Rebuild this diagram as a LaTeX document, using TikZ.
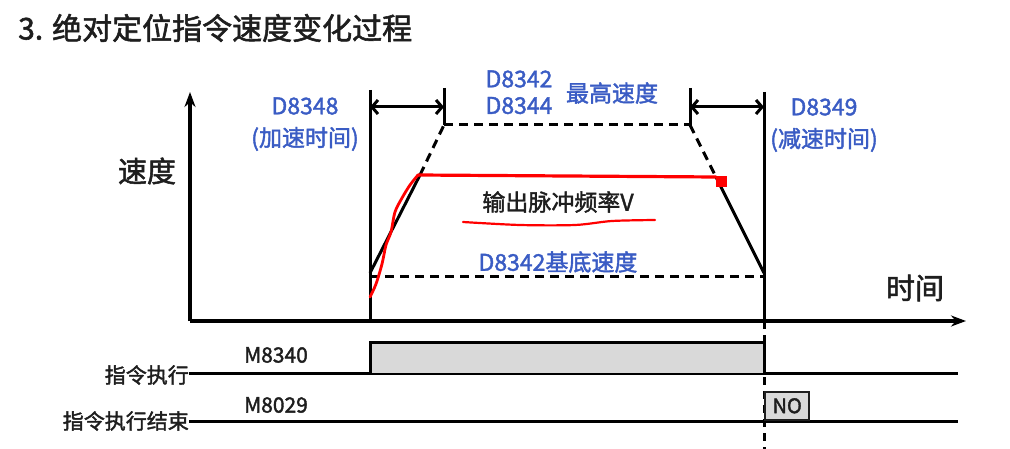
\documentclass[tikz,border=0pt]{standalone}
\usepackage{fontspec}
\setmainfont{Noto Sans CJK SC}[UprightFeatures={FakeBold=1.8}]
\usetikzlibrary{arrows.meta,positioning,calc}
\definecolor{lblue}{RGB}{58,92,196}
\definecolor{boxgray}{RGB}{217,217,217}
\definecolor{ink}{RGB}{30,30,30}

\begin{document}
\begin{tikzpicture}[x=1pt,y=-1pt,
  axis/.style={line width=3.2pt,-{Stealth[length=15pt,width=11pt]}},
  edge/.style={line width=3pt},
  dsh/.style={line width=3pt,dash pattern=on 9pt off 6pt},
  span/.style={line width=3pt,{Straight Barb[length=6pt,width=14pt]}-{Straight Barb[length=6pt,width=14pt]}},
  pen/.style={red,line width=2.8pt,line cap=round,line join=round},
  bluetxt/.style={text=lblue,inner sep=0pt,font=\fontsize{23}{26}\selectfont},
  blacktxt/.style={text=ink,inner sep=0pt,font=\fontsize{23}{26}\selectfont},
  rowtxt/.style={text=ink,inner sep=0pt,font=\fontsize{21}{24}\selectfont}]
  \useasboundingbox (0,0) rectangle (1010,449);

  % key points of the chart
  \coordinate (O) at (190,321);
  \coordinate (ytip) at (190,92);
  \coordinate (xtip) at (966,321);
  \coordinate (t0) at (370,321);
  \coordinate (t0top) at (370,90);
  \coordinate (t1) at (764,321);
  \coordinate (t1top) at (764,92);
  \coordinate (t1end) at (764,449);
  \coordinate (ma) at (444,88);
  \coordinate (mb) at (690,88);
  \coordinate (ta) at (444,125);
  \coordinate (tb) at (690,125);
  \coordinate (la) at (370,273);
  \coordinate (ra) at (764,273);
  \coordinate (ka) at (420,175);
  \coordinate (kb) at (716,177);
  \coordinate (ba) at (370,277);
  \coordinate (bb) at (764,277);

  \node[anchor=west,inner sep=0pt,text=ink,font=\fontsize{30}{33}\selectfont] (title) at (18,28) {3. 绝对定位指令速度变化过程};

  % axes
  \draw[axis] (O) -- (ytip);
  \draw[axis] (O) -- (xtip);
  \node[text=ink,inner sep=0pt,font=\fontsize{29}{32}\selectfont] (vlab) at (147,171) {速度};
  \node[text=ink,inner sep=0pt,font=\fontsize{29}{32}\selectfont] (tlab) at (915,288) {时间};

  % trapezoid
  \draw[edge] (t0top) -- (t0);
  \draw[edge] (t1top) -- (t1);
  \draw[edge] (ma) -- (ta);
  \draw[edge] (mb) -- (tb);
  \draw[dsh] (ta) -- (tb);
  \draw[edge] (la) -- (ka);
  \draw[dsh] (ka) -- (ta);
  \draw[dsh] (tb) -- (kb);
  \draw[edge] (kb) -- (ra);
  \draw[dsh] (ba) -- (bb);

  % time spans
  \coordinate (sa) at (370,107);
  \coordinate (sb) at (444,107);
  \coordinate (sc) at (690,107);
  \coordinate (sd) at (764,107);
  \draw[span] (sa) -- (sb);
  \draw[span] (sc) -- (sd);

  \node[bluetxt] (acc) at (305,106) {D8348};
  \node[bluetxt,below=12pt of acc] (accx) {(加速时间)};
  \node[bluetxt] (vmaxa) at (519,79) {D8342};
  \node[bluetxt,below=9pt of vmaxa] (vmaxb) {D8344};
  \node[bluetxt] (vmax) at (612,93) {最高速度};
  \node[bluetxt] (dec) at (824,107) {D8349};
  \node[bluetxt,below=12pt of dec] (decx) {(减速时间)};
  \node[blacktxt] (freq) at (558,202) {输出脉冲频率V};
  \node[bluetxt] (base) at (558,262) {D8342基底速度};

  % red pen marks
  \coordinate (rs) at (418,175);
  \draw[pen,line width=3.2pt] (rs) -- (kb);
  \fill[red] (716,176) rectangle (727,187);
  \draw[pen] plot[smooth] coordinates {(370,297) (376,284) (382,264) (386,245) (391,232) (395,212) (402,198) (410,185) (418,175)};
  \draw[pen,line width=2.2pt] plot[smooth] coordinates {(463,222) (520,225) (575,225) (612,221) (655,220)};

  % timing rows
  \coordinate (r1) at (958,373);
  \coordinate (r2) at (958,421);
  \draw[dsh,dash pattern=on 8pt off 6pt] (t1) -- (t1end);
  \node[rowtxt,anchor=east] (run) at (189,375) {指令执行};
  \node[rowtxt,anchor=east] (done) at (189,421) {指令执行结束};
  \draw[edge] (run.east |- r1) -- (r1);
  \draw[edge] (done.east |- r2) -- (r2);
  \filldraw[edge,fill=boxgray] (370,373) -- (370,342) -- (764,342) -- (764,373);
  \node[rowtxt] (m1) at (276,355) {M8340};
  \node[rowtxt] (m2) at (276,405) {M8029};
  \node[draw=ink,line width=2.4pt,fill=boxgray,anchor=south west,minimum width=44pt,minimum height=28pt,inner sep=0pt,text=ink,font=\fontsize{20}{22}\selectfont] (no) at (764,421) {NO};
\end{tikzpicture}
\end{document}
